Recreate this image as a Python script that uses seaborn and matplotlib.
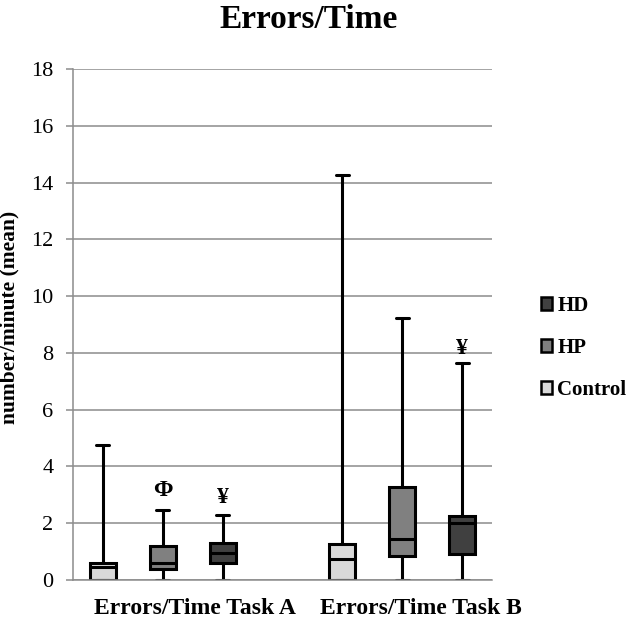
import numpy as np
import matplotlib.pyplot as plt
import pandas as pd
import seaborn as sns
from matplotlib.patches import Patch

# one box per slot; slot 3 stays empty between the two tasks
groups = ['Control', 'HP', 'HD', 'Control', 'HP', 'HD']
slots = [0, 1, 2, 4, 5, 6]
# five-number summaries
mins = [0.0, 0.0, 0.0, 0.0, 0.0, 0.0]
q1s = [0.0, 0.39, 0.61, 0.0, 0.86, 0.91]
medians = [0.45, 0.59, 0.96, 0.74, 1.43, 2.02]
q3s = [0.59, 1.20, 1.29, 1.26, 3.29, 2.24]
maxs = [4.76, 2.47, 2.29, 14.27, 9.23, 7.64]

task_labels = ['Errors/Time Task A', 'Errors/Time Task B']
task_label_pos = [1.53, 5.32]
legend_order = ['HD', 'HP', 'Control']
colors = {'Control': '#d9d9d9', 'HP': '#808080', 'HD': '#404040'}

# significance marks: (slot, y, symbol)
marks_x = [1, 2, 6]
marks_y = [3.17, 2.89, 8.17]
marks_txt = ['\u03a6', '\u00a5', '\u00a5']

# five values per box -> quartiles land exactly on q1/median/q3
rows = []
for s, g, a, b, c, d, e in zip(slots, groups, mins, q1s, medians, q3s, maxs):
    for v in (a, b, c, d, e):
        rows.append({'slot': s, 'group': g, 'value': v})
df = pd.DataFrame(rows)

sns.set_style('white')
plt.rcParams['font.family'] = ['Liberation Serif', 'DejaVu Serif']
plt.rcParams['text.color'] = 'black'
plt.rcParams['axes.labelcolor'] = 'black'

fig = plt.figure(figsize=(6.33, 6.22), dpi=100)
ax = fig.add_axes([73 / 633, 1 - 580 / 622, 419 / 633, 511 / 622])

sns.boxplot(data=df, x='slot', y='value', hue='group', dodge=False,
            native_scale=True, width=0.43, whis=(0, 100),
            palette=colors, linecolor='black', linewidth=2.2,
            legend=False, ax=ax)

ax.set_xlim(-0.5, 6.5)
ax.set_ylim(0, 18)
ax.set_yticks(np.arange(0, 19, 2))
ax.yaxis.grid(True, color='#8c8c8c', linewidth=1.1)
ax.set_axisbelow(True)

for sp in ['top', 'right']:
    ax.spines[sp].set_visible(False)
for sp in ['left', 'bottom']:
    ax.spines[sp].set_color('#8c8c8c')
    ax.spines[sp].set_linewidth(1.1)

ax.set_xticks(task_label_pos, task_labels)
ax.set_xticks(np.arange(-0.5, 7, 1), minor=True)
ax.tick_params(axis='x', which='major', length=0, pad=13, labelsize=17,
               labelcolor='black')
ax.tick_params(axis='x', which='minor', length=5, width=1.1, color='#8c8c8c', direction='out')
for t in ax.get_xticklabels():
    t.set_fontweight('bold')
ax.tick_params(axis='y', length=5, width=1.1, color='#8c8c8c', direction='out',
               pad=9, labelsize=16, left=True, labelcolor='black')
ax.set_xlabel('')
ax.set_ylabel('number/minute (mean)', fontsize=15.5, fontweight='bold')
ax.yaxis.set_label_coords(-0.128, 0.513)

for x, y, t in zip(marks_x, marks_y, marks_txt):
    ax.text(x, y, t, ha='center', va='center', fontsize=17, fontweight='bold')

fig.text(309 / 633, 1 - 19 / 622, 'Errors/Time', ha='center', va='center',
         fontsize=24, fontweight='bold')

handles = [Patch(facecolor=colors[g], edgecolor='black', linewidth=1.8, label=g)
           for g in legend_order]
leg = fig.legend(handles=handles, loc='center left', bbox_to_anchor=(522 / 633, 1 - 348 / 622),
                 frameon=False, handlelength=0.55, handleheight=0.55, handletextpad=0.25,
                 labelspacing=1.05, prop={'size': 15, 'weight': 'bold'})

fig.savefig('out.png', dpi=100)
